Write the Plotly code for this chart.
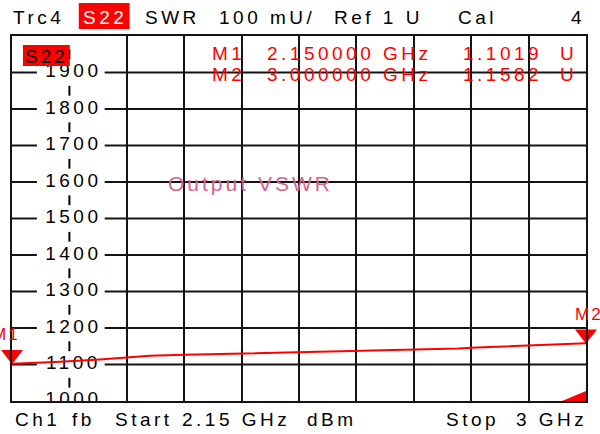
import plotly.graph_objects as go

# ---------------- data ----------------
freq_ghz = [2.150, 2.191, 2.221, 2.280, 2.320, 2.354, 2.405, 2.472, 2.575,
            2.658, 2.708, 2.745, 2.811, 2.830, 2.892, 2.916, 2.959, 3.000]
vswr_mu = [1101.9, 1104.7, 1107.4, 1113.7, 1118.4, 1123.8, 1126.6, 1129.3, 1133.4,
           1136.4, 1139.2, 1141.1, 1143.8, 1145.8, 1150.1, 1152.0, 1154.0, 1158.2]
marker_names = ["M1", "M2"]
marker_freq = [2.15, 3.00]
marker_val = [1101.9, 1158.2]
start_ghz, stop_ghz = 2.15, 3.00
ref_level, per_div, n_div = 1000, 100, 10
y_tick_vals = [ref_level + i * per_div for i in range(n_div)]
y_tick_labels = [str(v) for v in y_tick_vals]
header_texts = ["Trc4", "S22", "SWR", "100 mU/", "Ref 1 U", "Cal", "4"]
footer_texts = ["Ch1", "fb", "Start", "2.15 GHz", "dBm", "Stop", "3 GHz"]
trace_title = "Output VSWR"

# ---------------- layout helpers ----------------
W, H = 600, 434
L, R, T, B = 12, 588, 36, 401
PW, PH = R - L, B - T
FONT = "Liberation Sans, Arial, sans-serif"
RED = "#ff0000"
GRID = "#141414"
INK = "#000000"


def px(x):
    return (x - L) / PW


def py(y):
    return (B - y) / PH


def sp(t, ls=3.5):
    return f'<span style="letter-spacing:{ls}px">{t}</span>'


step = (stop_ghz - start_ghz) / n_div
y_top = ref_level + n_div * per_div
label_x = start_ghz + step  # label column sits on first division
unit_per_px = (y_top - ref_level) / PH
label_shift = 4 * step / (PW / n_div)
# nudge the bottom label a hair inside the range so it is drawn (and clipped by the frame)
label_y = [v + (0.3 * unit_per_px if v == ref_level else 0) for v in y_tick_vals]

fig = go.Figure()

# y labels inside grid (clipped by plot area)
fig.add_trace(go.Scatter(
    x=[label_x + label_shift] * len(y_tick_vals), y=label_y,
    mode="text", text=[sp(t) for t in y_tick_labels],
    textposition="middle center",
    textfont=dict(family=FONT, size=19, color=INK),
    hoverinfo="skip", cliponaxis=True))

# short dashes on the label column at half divisions
fig.add_trace(go.Scatter(
    x=[label_x] * n_div, y=[v + per_div / 2 for v in y_tick_vals],
    mode="markers",
    marker=dict(symbol="line-ns", size=7, line=dict(width=2, color=INK)),
    hoverinfo="skip"))

# measured trace
fig.add_trace(go.Scatter(
    x=freq_ghz, y=vswr_mu, mode="lines",
    line=dict(color=RED, width=2), hoverinfo="skip"))

# marker triangles (tip on the trace point)
fig.add_trace(go.Scatter(
    x=marker_freq, y=[v + 9 * unit_per_px for v in marker_val],
    mode="markers", cliponaxis=False,
    marker=dict(symbol="triangle-down", size=19, color=RED, line=dict(width=0)),
    hoverinfo="skip"))

shapes = []
# horizontal grid lines, interrupted where the labels sit
for v in y_tick_vals[1:]:
    for x0, x1 in ((0, px(37)), (px(105), 1)):
        shapes.append(dict(type="line", xref="paper", yref="y", x0=x0, x1=x1, y0=v, y1=v,
                           line=dict(color=GRID, width=2), layer="below"))
# S22 box inside the diagram
shapes.append(dict(type="rect", xref="paper", yref="paper",
                   x0=px(23), x1=px(70), y0=py(66), y1=py(45),
                   fillcolor=RED, line=dict(width=0), layer="above"))
# S22 box in header
shapes.append(dict(type="rect", xref="paper", yref="paper",
                   x0=px(79), x1=px(130), y0=py(29), y1=py(3),
                   fillcolor=RED, line=dict(width=0), layer="above"))
# reference level wedge
shapes.append(dict(type="path", xref="paper", yref="paper",
                   path=f"M {px(564)},{py(401)} L {px(588)},{py(401)} L {px(588)},{py(391)} Z",
                   fillcolor=RED, line=dict(width=0), layer="above"))

ann = []
header_x = [11, 81, 143, 218, 333, 458, 571]
for t, x in zip(header_texts, header_x):
    ann.append(dict(text=sp(t), x=px(x), y=py(17), xref="paper", yref="paper",
                    xanchor="left", yanchor="middle", showarrow=False,
                    font=dict(family=FONT, size=19, color="white" if t == "S22" else INK)))
footer_x = [13, 70, 113, 181, 306, 446, 516]
for t, x in zip(footer_texts, footer_x):
    ann.append(dict(text=sp(t), x=px(x), y=py(420), xref="paper", yref="paper",
                    xanchor="left", yanchor="middle", showarrow=False,
                    font=dict(family=FONT, size=19, color=INK)))

# marker table
for i, (n, f, v) in enumerate(zip(marker_names, marker_freq, marker_val)):
    yy = py(53 + 21 * i)
    cells = [(n, 211), (f"{f:.6f} GHz", 266), (f"{v / 1000:.4f}", 463), ("U", 560)]
    for t, x in cells:
        ann.append(dict(text=sp(t), x=px(x), y=yy, xref="paper", yref="paper",
                        xanchor="left", yanchor="middle", showarrow=False,
                        font=dict(family=FONT, size=19, color=RED)))
    # marker labels above triangles
    ann.append(dict(text=sp(n, 2), x=f, y=v, xref="x", yref="y", showarrow=False,
                    xanchor="center", yanchor="middle", yshift=29, xshift=-6 if i == 0 else 3,
                    font=dict(family=FONT, size=17, color=RED)))

# S22 label inside diagram
ann.append(dict(text=sp("S22", 3), x=px(47), y=py(56), xref="paper", yref="paper",
                xanchor="center", yanchor="middle", showarrow=False,
                font=dict(family=FONT, size=19, color=INK)))
# trace title
ann.append(dict(text=sp(trace_title, 3), x=px(251), y=py(183), xref="paper", yref="paper",
                xanchor="center", yanchor="middle", showarrow=False,
                font=dict(family=FONT, size=21, color="#d4648e")))

axis_common = dict(showticklabels=False, ticks="", showline=True, mirror=True,
                   linecolor=GRID, linewidth=2, zeroline=False, fixedrange=True)

fig.update_layout(
    width=W, height=H,
    margin=dict(l=L, r=W - R, t=T, b=H - B),
    paper_bgcolor="white", plot_bgcolor="white",
    showlegend=False,
    xaxis=dict(range=[start_ghz, stop_ghz], showgrid=True, gridcolor=GRID, gridwidth=2,
               tickvals=[start_ghz + i * step for i in range(2, n_div)], **axis_common),
    yaxis=dict(range=[ref_level, y_top], showgrid=False, **axis_common),
    shapes=shapes, annotations=ann,
)

fig.write_html("out.html", config={"displayModeBar": False},
               post_script="document.body.style.margin='0';document.body.style.overflow='hidden';")
